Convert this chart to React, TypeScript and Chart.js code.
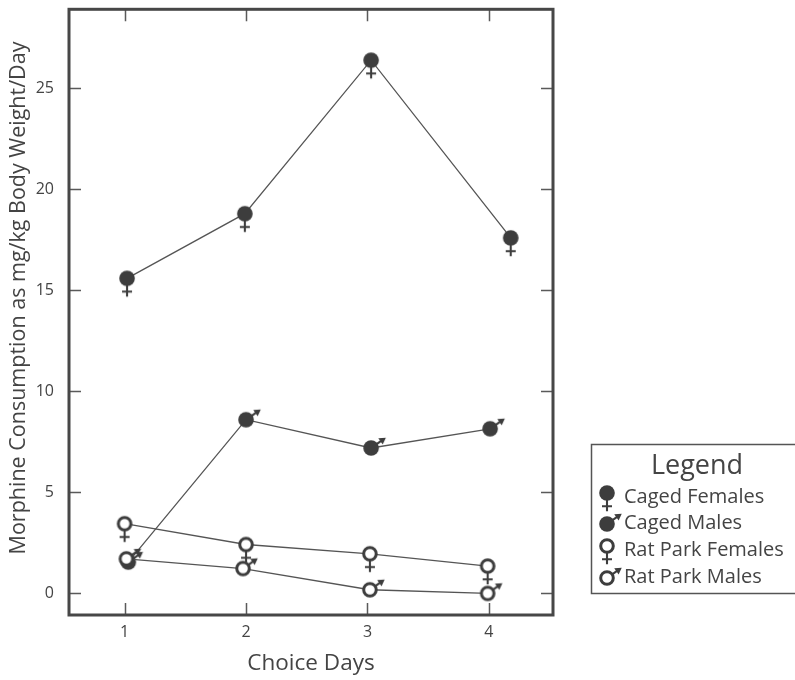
import React, { useEffect, useRef } from 'react';
import { Chart, registerables } from 'chart.js';
Chart.register(...registerables);

// ---- data ----
const dayTicks = [1, 2, 3, 4];
const yTicks = [0, 5, 10, 15, 20, 25];

const seriesNames = ['Caged Females', 'Caged Males', 'Rat Park Females', 'Rat Park Males'];

const cagedFemalesDay = [1.02, 1.99, 3.03, 4.18];
const cagedFemales = [15.6, 18.8, 26.4, 17.6];

const cagedMalesDay = [1.03, 2.0, 3.03, 4.01];
const cagedMales = [1.55, 8.6, 7.2, 8.15];

const ratParkFemalesDay = [1.0, 2.0, 3.02, 3.99];
const ratParkFemales = [3.45, 2.42, 1.96, 1.35];

const ratParkMalesDay = [1.015, 1.975, 3.02, 3.99];
const ratParkMales = [1.71, 1.23, 0.18, 0.0];

const yTitle = 'Morphine Consumption as mg/kg Body Weight/Day';
const xTitle = 'Choice Days';

const INK = '#3d3d3d';
const TEXT = '#444444';
const FONT = "'Open Sans', 'Noto Sans', sans-serif";

function makeMarker(filled: boolean, female: boolean): HTMLCanvasElement {
  const s = 50;
  const c = document.createElement('canvas');
  c.width = s;
  c.height = s;
  const g = c.getContext('2d')!;
  const cx = s / 2;
  const cy = s / 2;
  const r = 7.8;
  g.strokeStyle = INK;
  g.fillStyle = INK;
  if (female) {
    g.lineWidth = 2.1;
    g.beginPath();
    g.moveTo(cx, cy + r - 1);
    g.lineTo(cx, cy + r + 10.5);
    g.moveTo(cx - 5, cy + r + 5.5);
    g.lineTo(cx + 5, cy + r + 5.5);
    g.stroke();
  } else {
    const a = (-35 * Math.PI) / 180;
    const ux = Math.cos(a);
    const uy = Math.sin(a);
    const tip = 18;
    g.lineWidth = 2.1;
    g.beginPath();
    g.moveTo(cx + ux * (r - 1), cy + uy * (r - 1));
    g.lineTo(cx + ux * (tip - 4), cy + uy * (tip - 4));
    g.stroke();
    const tx = cx + ux * tip;
    const ty = cy + uy * tip;
    const px = -uy;
    const py = ux;
    const hl = 6.5;
    const hw = 3.8;
    g.beginPath();
    g.moveTo(tx, ty);
    g.lineTo(tx - ux * hl + px * hw, ty - uy * hl + py * hw);
    g.lineTo(tx - ux * hl - px * hw, ty - uy * hl - py * hw);
    g.closePath();
    g.fill();
  }
  g.beginPath();
  if (filled) {
    g.arc(cx, cy, r, 0, Math.PI * 2);
    g.fill();
  } else {
    g.arc(cx, cy, r - 1.5, 0, Math.PI * 2);
    g.fillStyle = '#ffffff';
    g.fill();
    g.lineWidth = 3;
    g.stroke();
  }
  return c;
}

function pts(xs: number[], ys: number[]) {
  return xs.map((x, i) => ({ x, y: ys[i] }));
}

export default function App() {
  const ref = useRef<HTMLCanvasElement | null>(null);

  useEffect(() => {
    document.body.style.margin = '0';
    const canvas = ref.current!;
    const markers = [
      makeMarker(true, true),
      makeMarker(true, false),
      makeMarker(false, true),
      makeMarker(false, false),
    ];

    const framePlugin = {
      id: 'frameTicks',
      beforeDatasetsDraw(chart: any) {
        const { ctx, chartArea: a, scales } = chart;
        const xs = scales.x;
        const ys = scales.y;
        ctx.save();
        ctx.strokeStyle = '#5a5a5a';
        ctx.lineWidth = 1.5;
        const tl = 12;
        ctx.beginPath();
        yTicks.forEach((v) => {
          const p = Math.round(ys.getPixelForValue(v)) + 0.5;
          ctx.moveTo(a.left, p);
          ctx.lineTo(a.left + tl, p);
          ctx.moveTo(a.right, p);
          ctx.lineTo(a.right - tl, p);
        });
        dayTicks.forEach((v) => {
          const p = Math.round(xs.getPixelForValue(v)) + 0.5;
          ctx.moveTo(p, a.bottom);
          ctx.lineTo(p, a.bottom - tl);
          ctx.moveTo(p, a.top);
          ctx.lineTo(p, a.top + tl);
        });
        ctx.stroke();
        ctx.strokeStyle = '#474747';
        ctx.lineWidth = 3;
        ctx.strokeRect(a.left, a.top, a.right - a.left, a.bottom - a.top);

        // y-axis title
        ctx.fillStyle = TEXT;
        ctx.font = `21.5px ${FONT}`;
        ctx.textAlign = 'center';
        ctx.textBaseline = 'middle';
        ctx.translate(19, 298);
        ctx.rotate(-Math.PI / 2);
        ctx.fillText(yTitle, 0, 0);
        ctx.restore();
      },
      afterDraw(chart: any) {
        const { ctx } = chart;
        ctx.save();
        ctx.strokeStyle = '#555555';
        ctx.lineWidth = 1.5;
        ctx.strokeRect(591.5, 444.5, 260, 149);
        ctx.fillStyle = TEXT;
        ctx.font = `27px ${FONT}`;
        ctx.textAlign = 'center';
        ctx.textBaseline = 'middle';
        ctx.fillText('Legend', 697, 466);
        ctx.font = `20px ${FONT}`;
        ctx.textAlign = 'left';
        const rows = [497, 523, 550, 577];
        seriesNames.forEach((name, i) => {
          const female = i % 2 === 0;
          const m = markers[i];
          const cy = rows[i] + (female ? -4 : 1);
          ctx.drawImage(m, 607 - m.width / 2, cy - m.height / 2);
          ctx.fillText(name, 624, rows[i]);
        });
        ctx.restore();
      },
    };

    const mk = (i: number, xs: number[], ys: number[], order: number) => ({
      label: seriesNames[i],
      data: pts(xs, ys),
      borderColor: '#555555',
      borderWidth: 1.3,
      pointStyle: markers[i],
      pointRadius: 8,
      pointHoverRadius: 8,
      fill: false,
      tension: 0,
      order,
      clip: false as any,
    });

    const chart = new Chart(canvas, {
      type: 'line',
      data: {
        datasets: [
          mk(0, cagedFemalesDay, cagedFemales, 3),
          mk(1, cagedMalesDay, cagedMales, 2),
          mk(2, ratParkFemalesDay, ratParkFemales, 1),
          mk(3, ratParkMalesDay, ratParkMales, 0),
        ],
      },
      options: {
        animation: false,
        responsive: false,
        events: [],
        layout: { padding: { top: 7, right: 242, left: 0, bottom: 0 } },
        plugins: { legend: { display: false }, tooltip: { enabled: false } },
        scales: {
          x: {
            type: 'linear',
            min: 0.542,
            max: 4.528,
            grid: { display: false, drawTicks: false },
            border: { display: false },
            afterBuildTicks: (s: any) => {
              s.ticks = dayTicks.map((v) => ({ value: v }));
            },
            afterFit: (s: any) => {
              s.height = 65;
              s.paddingLeft = 0;
              s.paddingRight = 0;
            },
            ticks: {
              color: TEXT,
              padding: 8,
              font: { family: FONT, size: 16 },
              callback: (v: any) => String(v),
            },
            title: {
              display: true,
              text: xTitle,
              color: TEXT,
              font: { family: FONT, size: 22.5, lineHeight: 1.2 },
              padding: { top: 0, bottom: 3 },
            },
          },
          y: {
            type: 'linear',
            min: -1.07,
            max: 28.92,
            grid: { display: false, drawTicks: false },
            border: { display: false },
            afterBuildTicks: (s: any) => {
              s.ticks = yTicks.map((v) => ({ value: v }));
            },
            afterFit: (s: any) => {
              s.width = 69;
              s.paddingTop = 0;
              s.paddingBottom = 0;
            },
            ticks: {
              color: TEXT,
              padding: 15,
              font: { family: FONT, size: 16 },
              callback: (v: any) => String(v),
            },
            title: { display: false },
          },
        },
      },
      plugins: [framePlugin],
    } as any);

    return () => chart.destroy();
  }, []);

  return <canvas ref={ref} width={795} height={680} style={{ display: 'block' }} />;
}
